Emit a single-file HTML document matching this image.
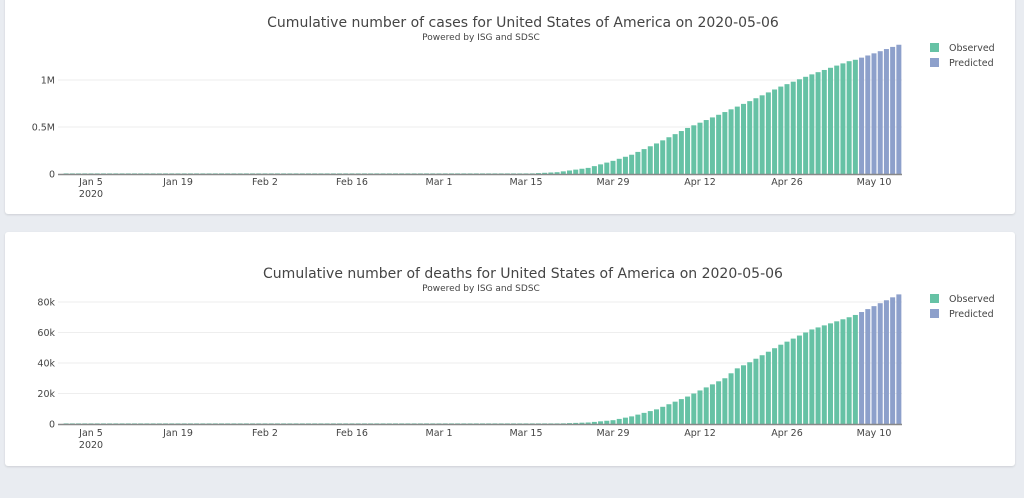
<!DOCTYPE html>
<html><head><meta charset="utf-8"><style>
html,body{margin:0;padding:0;background:#e9ecf1;width:1024px;height:498px;overflow:hidden;font-family:"Liberation Sans","DejaVu Sans",sans-serif}
.card{position:absolute;left:5px;width:1010px;background:#fff;border-radius:3px;box-shadow:0 1px 2px rgba(0,0,0,0.12)}
svg{position:absolute;left:0;top:0}
text{font-family:"DejaVu Sans","Liberation Sans",sans-serif;fill:#444}
</style></head><body>
<div class="card" style="top:-4px;height:218px"></div>
<div class="card" style="top:232px;height:234px"></div>
<svg id="s" width="1024" height="498" xmlns="http://www.w3.org/2000/svg"></svg>
<script>
var s=document.getElementById('s');
var h='';
var px=6.2143, jan5=91;
function xOf(day){return jan5+day*px;}
function interp(pts,d){
 if(d<=pts[0][0])return 0;
 for(var i=1;i<pts.length;i++){if(d<=pts[i][0]){var a=pts[i-1],b=pts[i];return a[1]+(b[1]-a[1])*(d-a[0])/(b[0]-a[0]);}}
 return pts[pts.length-1][1];
}
var cases=[[52,0],[60,0.0005],[66,0.002],[70,0.0035],[75,0.019],[80,0.065],[84,0.14],[87,0.205],[91,0.325],[96,0.49],[101,0.63],[106,0.775],[111,0.93],[116,1.06],[122,1.20],[123,1.215],[130,1.375]];
var deaths=[[60,0],[70,0.06],[75,0.3],[80,1.0],[84,2.5],[87,5],[91,9.6],[96,18],[101,28],[102,30],[104,36.5],[106,40.5],[111,52],[116,62],[122,70],[123,71.5],[130,85]];
function chart(top0,scale,data,ticks,title,legY,xlabY){
 ticks.forEach(function(t){var y=top0-t[0]*scale;
  if(t[0]>0)h+='<line x1="58" x2="902" y1="'+y+'" y2="'+y+'" stroke="#eee" stroke-width="1"/>';
  h+='<text x="55" y="'+(y+3.5)+'" font-size="9.5" text-anchor="end">'+t[1]+'</text>';});
 for(var d=-4;d<=130;d++){var v=interp(data,d);var bh=v*scale;if(bh<0.6)bh=0.6;
  var x=xOf(d)-2.5;var c=d<=123?'#66c2a5':'#8da0cb';
  h+='<rect x="'+x.toFixed(2)+'" y="'+(top0-bh).toFixed(2)+'" width="5.0" height="'+bh.toFixed(2)+'" fill="'+c+'"/>';}
 h+='<line x1="58" x2="902" y1="'+(top0+0.5)+'" y2="'+(top0+0.5)+'" stroke="#888" stroke-width="1.5"/>';
 var lab=['Jan 5','Jan 19','Feb 2','Feb 16','Mar 1','Mar 15','Mar 29','Apr 12','Apr 26','May 10'];
 lab.forEach(function(l,i){h+='<text x="'+xOf(i*14)+'" y="'+xlabY+'" font-size="9.5" text-anchor="middle">'+l+'</text>';});
 h+='<text x="'+xOf(0)+'" y="'+(xlabY+12)+'" font-size="9.5" text-anchor="middle">2020</text>';
 h+='<text x="523" y="'+(legY-18)+'" font-size="14" text-anchor="middle">'+title+'</text>';
 h+='<text x="481" y="'+(legY-5)+'" font-size="9" text-anchor="middle">Powered by ISG and SDSC</text>';
 h+='<rect x="930" y="'+(legY-2)+'" width="9" height="9" fill="#66c2a5"/><text x="949" y="'+(legY+6)+'" font-size="9.5">Observed</text>';
 h+='<rect x="930" y="'+(legY+13)+'" width="9" height="9" fill="#8da0cb"/><text x="949" y="'+(legY+21)+'" font-size="9.5">Predicted</text>';
}
chart(174,94,cases,[[0,'0'],[0.5,'0.5M'],[1,'1M']],'Cumulative number of cases for United States of America on 2020-05-06',45,185);
chart(424,1.525,deaths,[[0,'0'],[20,'20k'],[40,'40k'],[60,'60k'],[80,'80k']],'Cumulative number of deaths for United States of America on 2020-05-06',296,436);
s.innerHTML=h;
</script>
</body></html>
